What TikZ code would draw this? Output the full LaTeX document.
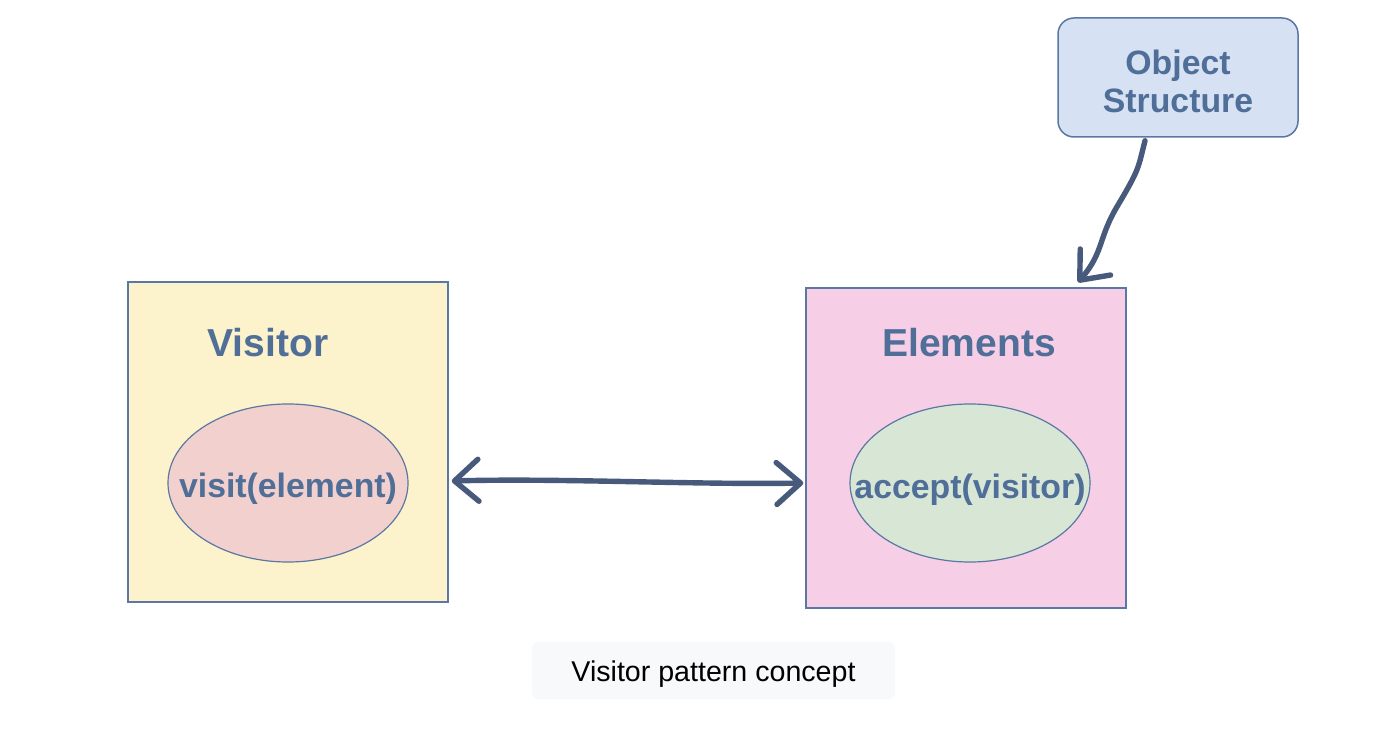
\documentclass[tikz,border=0pt]{standalone}
\usepackage{fontspec}
\setmainfont{Liberation Sans}
\usetikzlibrary{arrows.meta,shapes.geometric,calc}
\definecolor{bordc}{HTML}{5A78A3}
\definecolor{txtc}{HTML}{4F6E98}
\definecolor{arrc}{HTML}{485A7C}
\definecolor{yellowf}{HTML}{FCF3CC}
\definecolor{pinkf}{HTML}{F6CEE6}
\definecolor{rosef}{HTML}{F2D0CD}
\definecolor{greenf}{HTML}{D8E6D6}
\definecolor{bluef}{HTML}{D6E1F3}
\definecolor{capf}{HTML}{F8F9FA}
\begin{document}
\begin{tikzpicture}[x=0.5pt,y=-0.5pt,
  bigbox/.style={draw=bordc,line width=0.75pt,minimum width=160pt,minimum height=160pt,inner sep=0pt},
  oval/.style={ellipse,draw=bordc,line width=0.6pt,minimum width=120pt,minimum height=79pt,inner sep=0pt},
  ovaltext/.style={text=txtc,font=\bfseries\fontsize{16.9}{20}\selectfont,inner sep=0pt},
  titletext/.style={text=txtc,font=\bfseries\fontsize{19.5}{23}\selectfont,inner sep=0pt},
  handarrow/.style={draw=arrc,line width=2.7pt,line cap=round,line join=round},
  barbtip/.tip={Straight Barb[length=12pt,width=21pt,line width=2.7pt,round]}
]
\useasboundingbox (0,0) rectangle (1374,742);
% boxes
\node[bigbox,fill=yellowf] (vis) at (288,442) {};
\node[bigbox,fill=pinkf] (el) at (966,448) {};
\node[titletext] (vist) at (268,343) {Visitor};
\node[titletext] (elt) at (969,343) {Elements};
\node[oval,fill=rosef] (visit) at (288,483) {};
\node[ovaltext] (visitt) at (288,489) {visit(element)};
\node[oval,fill=greenf] (accept) at (970,483) {};
\node[ovaltext] (acceptt) at (970,490) {accept(visitor)};
% object structure
\node[draw=bordc,line width=0.75pt,fill=bluef,rounded corners=8pt,minimum width=120pt,minimum height=59.5pt,
  inner sep=0pt] (os) at (1178,77.5) {};
\node[text=txtc,align=center,inner sep=0pt,font=\bfseries\fontsize{16.9}{19}\selectfont] (ost) at (1178,81) {Object\\Structure};
% caption
\node[fill=capf,rounded corners=3pt,minimum width=181.5pt,minimum height=28.5pt,inner sep=0pt] (cap) at (713.5,670.5) {};
\node[inner sep=0pt,font=\fontsize{14.3}{17}\selectfont] (capt) at (713.5,674.5) {Visitor pattern concept};
% double arrow
\draw[handarrow,barbtip-barbtip]
  ($(vis.east)+(3,39)$) .. controls (560,478) and (700,485) .. ($(el.west)+(-2,35)$);
% curved arrow
\draw[handarrow,-{Straight Barb[length=12pt,width=20pt,line width=2.7pt,round]}]
  ($(os.south)+(-33,3)$) .. controls (1138,168) and (1140,168) .. (1118,205)
  .. controls (1098,238) and (1104,252) .. ($(el.north)+(112,-5)$);
\end{tikzpicture}
\end{document}
